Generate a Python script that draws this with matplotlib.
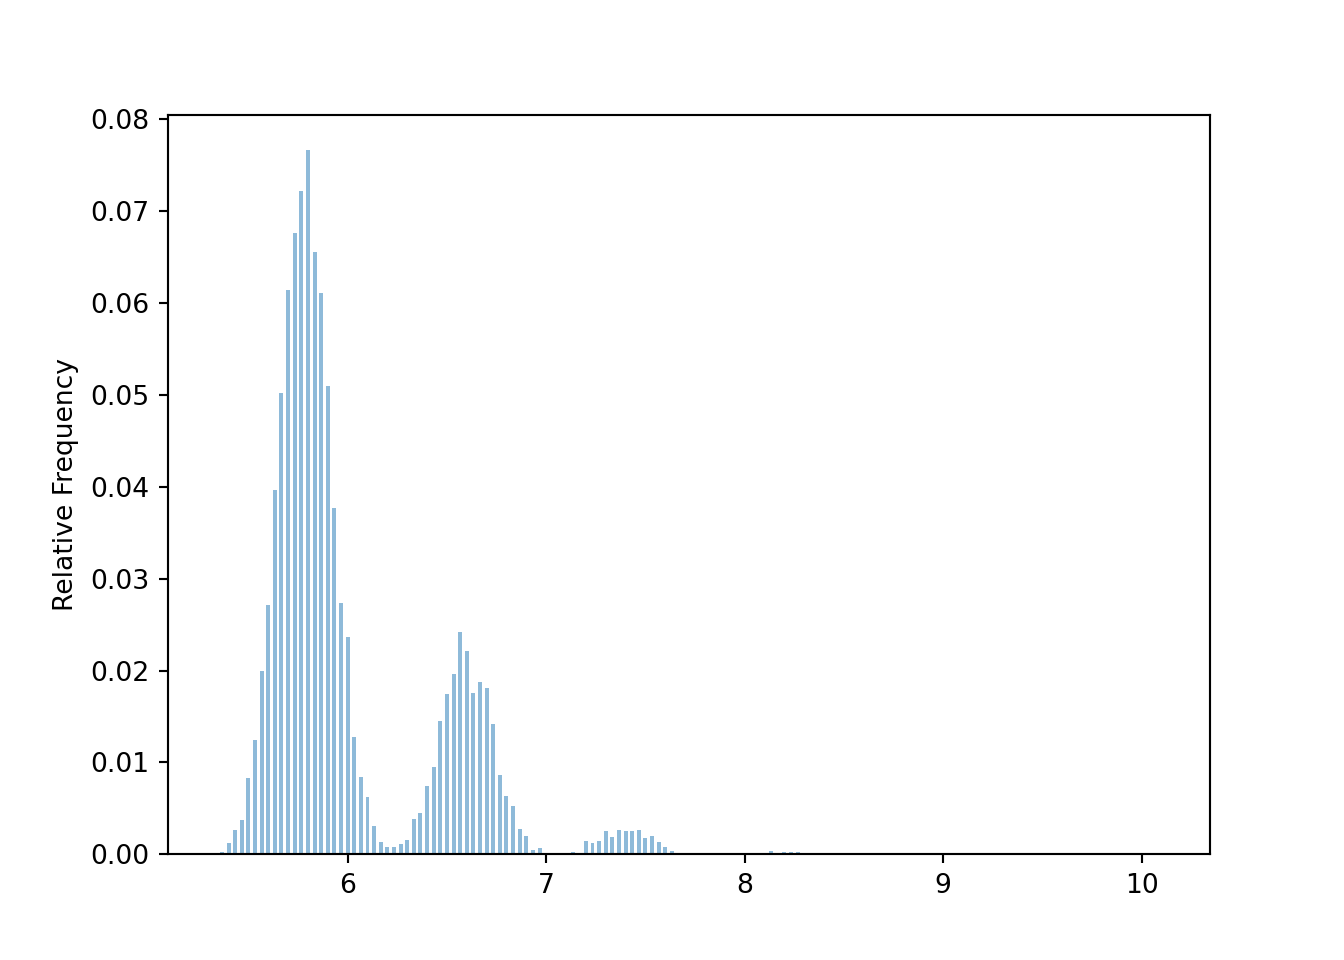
import matplotlib
matplotlib.use("Agg")
import matplotlib.pyplot as plt
import numpy as np

# relative frequency per bin, bins of width 1/30 starting at 5.35
bin_start = 5.35
bin_width = 1 / 30
rel_freq = [
    0.0003, 0.0012, 0.0026, 0.0037, 0.0083, 0.0124, 0.0199, 0.0271, 0.0396, 0.0502,
    0.0614, 0.0676, 0.0722, 0.0766, 0.0655, 0.0611, 0.0509, 0.0377, 0.0273, 0.0236,
    0.0128, 0.0084, 0.0062, 0.0031, 0.0014, 0.0008, 0.0008, 0.0011, 0.0016, 0.0038,
    0.0045, 0.0074, 0.0095, 0.0145, 0.0174, 0.0196, 0.0242, 0.0221, 0.0176, 0.0188,
    0.0181, 0.0142, 0.0086, 0.0063, 0.0053, 0.0028, 0.0020, 0.0005, 0.0007, 0.0002,
    0.0, 0.0, 0.0, 0.0003, 0.0002, 0.0015, 0.0012, 0.0015, 0.0025, 0.0019,
    0.0027, 0.0025, 0.0025, 0.0027, 0.0018, 0.0020, 0.0014, 0.0008, 0.0004, 0.0,
    0.0, 0.0, 0.0, 0.0, 0.0, 0.0, 0.0, 0.0, 0.0, 0.0,
    0.0, 0.0, 0.0, 0.0004, 0.0, 0.0003, 0.0003, 0.0003,
]

edges = bin_start + bin_width * np.arange(len(rel_freq) + 1)
centers = (edges[:-1] + edges[1:]) / 2

fig, ax = plt.subplots(figsize=(7, 5), dpi=192)
ax.hist(centers, bins=edges, weights=rel_freq, rwidth=0.6, alpha=0.5)
ax.set_xlim(5.095, 10.342)
ax.set_ylim(0, 0.0804)
ax.set_ylabel("Relative Frequency")

fig.savefig("out.png")
